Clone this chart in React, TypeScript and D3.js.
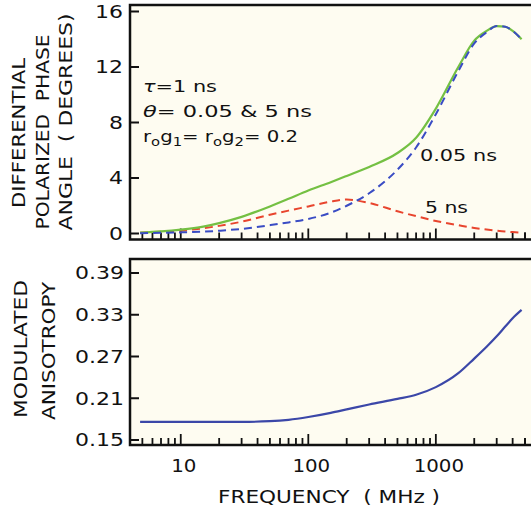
import React from "react";
import * as d3 from "d3";

// ---- data ----
const freqs = [4.8, 7, 10, 15, 20, 30, 50, 70, 100, 150, 200, 300, 500, 700, 1000, 1500, 2000, 2500, 3000, 3500, 4000, 4700];
const totalPhase = [0.06, 0.15, 0.28, 0.5, 0.75, 1.2, 1.95, 2.5, 3.1, 3.7, 4.15, 4.8, 5.8, 6.9, 9.0, 12.0, 13.9, 14.6, 14.95, 14.9, 14.6, 14.0];
const phaseFast = [0.02, 0.05, 0.08, 0.13, 0.2, 0.33, 0.6, 0.8, 1.05, 1.5, 2.0, 2.9, 4.6, 6.2, 8.6, 11.7, 13.7, 14.5, 14.95, 14.9, 14.6, 14.0];
const phaseSlow = [0.06, 0.13, 0.2, 0.38, 0.55, 0.85, 1.35, 1.65, 1.95, 2.3, 2.45, 2.2, 1.6, 1.25, 0.9, 0.6, 0.4, 0.28, 0.2, 0.14, 0.1, 0.07];
const anisotropy = [0.176, 0.176, 0.176, 0.176, 0.176, 0.176, 0.177, 0.179, 0.183, 0.189, 0.194, 0.201, 0.209, 0.215, 0.226, 0.246, 0.267, 0.284, 0.299, 0.313, 0.325, 0.337];

const phaseTicks = [0, 4, 8, 12, 16];
const anisoTicks = [0.15, 0.21, 0.27, 0.33, 0.39];
const freqLabels = [10, 100, 1000];

const FONT = "'DejaVu Sans', sans-serif";

const numWidth = (s: string, dw: number) =>
  s.split("").reduce((a, c) => a + (c === "." ? dw * 0.5 : dw), 0);

export default function App() {
  const W = 531, H = 512;
  const x = d3.scaleLog().domain([4, 5000]).range([130, 525]);
  const yTop = d3.scaleLinear().domain([0, 16]).range([233.5, 11.5]);
  const yBot = d3.scaleLinear().domain([0.15, 0.39]).range([440, 273]);
  const topFrame = { t: 5, b: 239.5 };
  const botFrame = { t: 259, b: 445 };
  const left = 130, right = 531;

  const minorTicks: number[] = [];
  for (let dec = 1; dec <= 1000; dec *= 10) {
    for (let m = 1; m <= 9; m++) {
      const v = m * dec;
      if (v >= 5 && v <= 5000) minorTicks.push(v);
    }
  }
  minorTicks.push(5000);

  const mk = (vals: number[], y: d3.ScaleLinear<number, number>) =>
    d3.line<number>().x((_, i) => x(freqs[i])).y((v) => y(v)).curve(d3.curveMonotoneX)(vals) || "";

  const xTicks = (yb: number) =>
    minorTicks.map((v, i) => {
      const major = [10, 100, 1000].includes(v);
      return <line key={i} x1={x(v)} x2={x(v)} y1={yb} y2={yb - (major ? 11 : 7)} stroke="#111" strokeWidth={1.8} />;
    });

  const fit = { lengthAdjust: "spacingAndGlyphs" as const };
  const bg = "#fefcf1";
  return (
    <svg width={W} height={H} style={{ position: "absolute", left: 0, top: 0, background: "#fff" }} fontFamily={FONT}>
      {/* top panel */}
      <rect x={left} y={topFrame.t} width={right - left} height={topFrame.b - topFrame.t} fill={bg} />
      <path d={`M${right},${topFrame.t}H${left}V${topFrame.b}H${right}`} fill="none" stroke="#111" strokeWidth={2.5} />
      {phaseTicks.map((t) => (
        <g key={t}>
          <line x1={left} x2={left + 9} y1={yTop(t)} y2={yTop(t)} stroke="#111" strokeWidth={2} />
          <text x={123} y={yTop(t)} dy="0.36em" textAnchor="end" fontSize={18} fill="#111"
            textLength={numWidth(String(t), 14)} {...fit}>{t}</text>
        </g>
      ))}
      {xTicks(topFrame.b)}
      <path d={mk(phaseSlow, yTop)} fill="none" stroke="#e8452e" strokeWidth={2} strokeDasharray="8,5" />
      <path d={mk(totalPhase, yTop)} fill="none" stroke="#74c043" strokeWidth={2.2} />
      <path d={mk(phaseFast, yTop)} fill="none" stroke="#3a4cc4" strokeWidth={2} strokeDasharray="8,5" />

      <g fontSize={16} fill="#111">
        <text x={143} y={92} textLength={74} {...fit}><tspan fontStyle="italic">τ</tspan>=1 ns</text>
        <text x={143} y={117} textLength={169} {...fit}><tspan fontStyle="italic">θ</tspan>= 0.05 &amp; 5 ns</text>
        <text x={143} y={142} textLength={155} {...fit}>
          r<tspan fontSize={12} dy={4}>o</tspan><tspan dy={-4}>g</tspan><tspan fontSize={12} dy={4}>1</tspan>
          <tspan dy={-4}>= r</tspan><tspan fontSize={12} dy={4}>o</tspan><tspan dy={-4}>g</tspan><tspan fontSize={12} dy={4}>2</tspan>
          <tspan dy={-4}>= 0.2</tspan>
        </text>
        <text x={420} y={161} textLength={77} {...fit}>0.05 ns</text>
        <text x={425} y={213} textLength={43} {...fit}>5 ns</text>
      </g>

      <g fontSize={18} fill="#111" textAnchor="middle">
        <text transform="translate(25,133) rotate(-90)" textLength={150} {...fit}>DIFFERENTIAL</text>
        <text transform="translate(49,132) rotate(-90)" style={{ whiteSpace: "pre" }} textLength={195} {...fit}>POLARIZED  PHASE</text>
        <text transform="translate(72,122) rotate(-90)" style={{ whiteSpace: "pre" }} textLength={217} {...fit}>ANGLE  ( DEGREES)</text>
      </g>

      {/* bottom panel */}
      <rect x={left} y={botFrame.t} width={right - left} height={botFrame.b - botFrame.t} fill={bg} />
      <path d={`M${right},${botFrame.t}H${left}V${botFrame.b}H${right}`} fill="none" stroke="#111" strokeWidth={2.5} />
      {anisoTicks.map((t) => (
        <g key={t}>
          <line x1={left} x2={left + 9} y1={yBot(t)} y2={yBot(t)} stroke="#111" strokeWidth={2} />
          <text x={124} y={yBot(t)} dy="0.36em" textAnchor="end" fontSize={18} fill="#111"
            textLength={numWidth(t.toFixed(2), 14)} {...fit}>{t.toFixed(2)}</text>
        </g>
      ))}
      {xTicks(botFrame.b)}
      <path d={mk(anisotropy, yBot)} fill="none" stroke="#3b47a8" strokeWidth={2.2} />
      {freqLabels.map((f) => (
        <text key={f} x={x(f) + 3} y={472} textAnchor="middle" fontSize={18} fill="#111"
          textLength={numWidth(String(f), 12.6)} {...fit}>{f}</text>
      ))}
      <text x={329} y={503} textAnchor="middle" fontSize={18} fill="#111" style={{ whiteSpace: "pre" }}
        textLength={222} {...fit}>FREQUENCY  ( MHz )</text>

      <g fontSize={18} fill="#111" textAnchor="middle">
        <text transform="translate(27,349) rotate(-90)" textLength={138} {...fit}>MODULATED</text>
        <text transform="translate(55,351) rotate(-90)" textLength={138} {...fit}>ANISOTROPY</text>
      </g>
    </svg>
  );
}
